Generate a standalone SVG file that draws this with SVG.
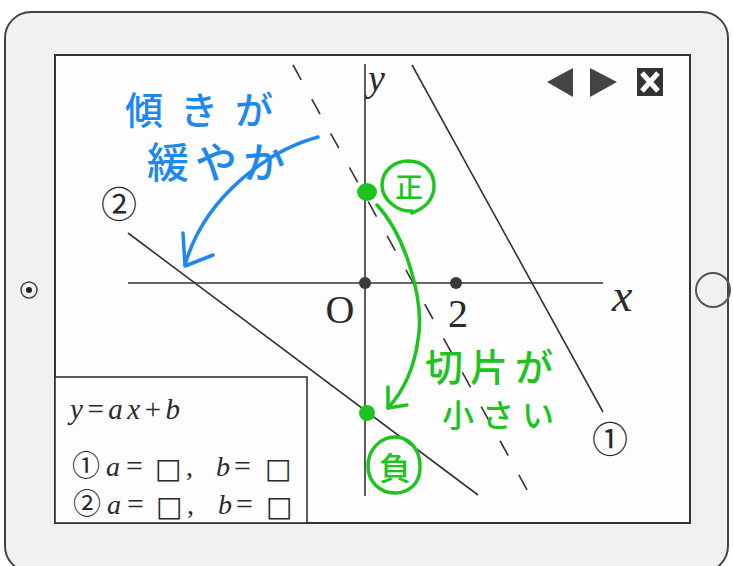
<svg xmlns="http://www.w3.org/2000/svg" width="733" height="566" viewBox="0 0 733 566">
<style>
.ln{stroke:#333;stroke-width:1.6;fill:none}
.mi{font-family:"Liberation Serif",serif;font-style:italic;fill:#2a2a2a}
.mr{font-family:"Liberation Serif",serif;fill:#2a2a2a}
.cj{font-family:"Noto Sans CJK JP",sans-serif;fill:#2a2a2a}
.bx{font-family:"DejaVu Sans",sans-serif;fill:#2a2a2a}
.bl{font-family:"Noto Sans CJK JP",sans-serif;fill:#1e88f0;font-weight:500}
.gr{font-family:"Noto Sans CJK JP",sans-serif;fill:#1ec41e;font-weight:500}
.bs{stroke:#1e88f0;stroke-width:3.5;fill:none;stroke-linecap:round;stroke-linejoin:round}
.gs{stroke:#1ec41e;stroke-width:3.5;fill:none;stroke-linecap:round;stroke-linejoin:round}
.dot{fill:#3a3a3a}
</style>
<rect width="733" height="566" fill="#ffffff"/>
<g id="tablet">
<rect x="5" y="12" width="723" height="560" rx="26" fill="#f1f1f1" stroke="#444" stroke-width="2"/>
<circle cx="29" cy="290" r="8" fill="none" stroke="#444" stroke-width="1.5"/>
<circle cx="29" cy="290" r="3" fill="#222"/>
<circle cx="713" cy="290" r="17" fill="none" stroke="#555" stroke-width="2"/>
</g>
<g id="screen">
<rect x="55" y="55" width="635" height="468" fill="#fdfdfd" stroke="#333" stroke-width="2"/>
<polygon points="547,82 573,68 573,97" fill="#444"/>
<polygon points="590,68 617,82 590,97" fill="#444"/>
<rect x="637" y="68" width="26" height="28" fill="#333"/>
<path d="M642,73 L658,91 M658,73 L642,91" stroke="#fff" stroke-width="5"/>
</g>
<g id="axes">
<line class="ln" x1="365" y1="64" x2="365" y2="496"/>
<line class="ln" x1="128" y1="283" x2="603" y2="283"/>
<circle class="dot" cx="365" cy="283" r="6"/>
<circle class="dot" cx="456" cy="283" r="6"/>
<text class="mi" x="368" y="91" font-size="38">y</text>
<text class="mi" x="612" y="311" font-size="46">x</text>
<text class="mr" x="340" y="323" font-size="40" text-anchor="middle">O</text>
<text class="mr" x="458" y="327" font-size="40" text-anchor="middle">2</text>
</g>
<g id="line1">
<line class="ln" x1="412" y1="65" x2="603" y2="412"/>
<text class="cj" x="610" y="453" font-size="36" text-anchor="middle">①</text>
</g>
<g id="line-dashed">
<line class="ln" x1="293" y1="65" x2="531" y2="497" stroke-dasharray="17 22"/>
</g>
<g id="line2">
<line class="ln" x1="128" y1="233" x2="478" y2="495"/>
<text class="cj" x="119" y="218" font-size="36" text-anchor="middle">②</text>
</g>
<g id="legend">
<rect x="55" y="377" width="252" height="146" fill="#fdfdfd" stroke="#333" stroke-width="1.6"/>
<text x="70" y="419" font-size="29" textLength="110" lengthAdjust="spacing"><tspan class="mi">y</tspan><tspan class="mr">=</tspan><tspan class="mi">ax</tspan><tspan class="mr">+</tspan><tspan class="mi">b</tspan></text>
<text class="cj" x="86" y="476" font-size="28" text-anchor="middle">①</text>
<text class="mi" x="106" y="476" font-size="28">a</text>
<text class="mr" x="126" y="476" font-size="30">=</text>
<text class="bx" x="155" y="478" font-size="28">□</text>
<text class="mr" x="186" y="476" font-size="28">,</text>
<text class="mi" x="216" y="476" font-size="28">b</text>
<text class="mr" x="234" y="476" font-size="30">=</text>
<text class="bx" x="265" y="478" font-size="28">□</text>
<text class="cj" x="87" y="514" font-size="28" text-anchor="middle">②</text>
<text class="mi" x="107" y="514" font-size="28">a</text>
<text class="mr" x="127" y="514" font-size="30">=</text>
<text class="bx" x="156" y="516" font-size="28">□</text>
<text class="mr" x="187" y="514" font-size="28">,</text>
<text class="mi" x="218" y="514" font-size="28">b</text>
<text class="mr" x="236" y="514" font-size="30">=</text>
<text class="bx" x="266" y="516" font-size="28">□</text>
</g>
<g id="blue-note">
<text class="bl" x="125" y="124" font-size="38" textLength="148" lengthAdjust="spacing">傾きが</text>
<text class="bl" x="147" y="178" font-size="42" textLength="138" lengthAdjust="spacing">緩やか</text>
</g>
<g id="green-notes">
<ellipse cx="367" cy="192" rx="10" ry="9" fill="#1ec41e"/>
<ellipse cx="367" cy="413" rx="8" ry="8" fill="#1ec41e"/>
<path class="gs" d="M412,211 C398,212 382,200 382,185 C382,170 395,161 408,161 C424,161 435,172 434,188 C433,200 425,208 412,213"/>
<text class="gr" x="409" y="198" font-size="28" text-anchor="middle">正</text>
<path class="gs" d="M420,468 C420,484 408,493 395,493 C380,493 368,482 368,466 C368,449 381,437 395,437 C409,437 420,449 420,466"/>
<text class="gr" x="395" y="480" font-size="32" text-anchor="middle">負</text>
<text class="gr" x="425" y="381" font-size="38" textLength="128" lengthAdjust="spacing">切片が</text>
<text class="gr" x="442" y="427" font-size="32" textLength="112" lengthAdjust="spacing">小さい</text>
</g>
<g id="connectors">
<path class="bs" d="M318,137 C270,150 205,195 185,265"/>
<path class="bs" d="M183,233 L185,266 L213,255"/>
<path class="gs" d="M377,205 C405,235 425,300 418,340 C413,375 400,395 388,408"/>
<path class="gs" d="M388,387 L388,408 L407,405"/>
</g>
</svg>
